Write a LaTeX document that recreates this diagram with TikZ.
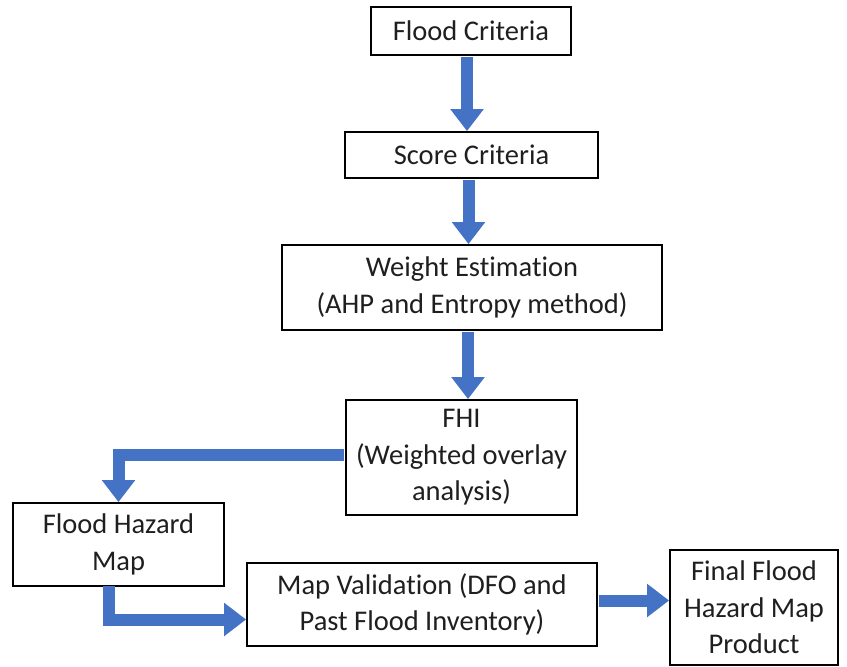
\documentclass[tikz,border=0pt]{standalone}
\usepackage{fontspec}
\setmainfont{Carlito}[Ligatures=NoCommon]
\usetikzlibrary{arrows.meta,calc}
\definecolor{arrblue}{HTML}{4472C4}
\begin{document}
\begin{tikzpicture}[x=1pt,y=-1pt,
  box/.style={draw=black,line width=1.8pt,fill=white,align=center,inner sep=0pt,font=\fontsize{28.5}{36.5}\selectfont,text=black!88},
  arr/.style={draw=arrblue,line width=12pt,line join=miter,-{Triangle[width=32pt,length=22pt]}}]
\useasboundingbox (0,0) rectangle (847,667);
\node[box,minimum width=200pt,minimum height=48pt] (fc) at (471,31) {Flood Criteria};
\node[box,minimum width=253pt,minimum height=46pt] (sc) at (471.5,155) {Score Criteria};
\node[box,minimum width=380pt,minimum height=85pt] (we) at (472,287.5) {Weight Estimation\\(AHP and Entropy method)};
\node[box,minimum width=231pt,minimum height=115pt] (fhi) at (461.5,457.5) {FHI\\(Weighted overlay\\analysis)};
\node[box,minimum width=211pt,minimum height=83pt] (fhm) at (118.5,544.5) {Flood Hazard\\Map};
\node[box,minimum width=350pt,minimum height=83pt] (mv) at (422,604.5) {Map Validation (DFO and\\Past Flood Inventory)};
\node[box,minimum width=168pt,minimum height=115pt] (fin) at (754,607.5) {Final Flood\\Hazard Map\\Product};
\coordinate (a1) at ($(fc.south)+(-4,1)$);
\draw[arr] (a1) -- (a1 |- sc.north);
\coordinate (a2) at ($(sc.south)+(-3,1)$);
\draw[arr] (a2) -- (a2 |- we.north);
\coordinate (a3) at ($(we.south)+(-4,1)$);
\draw[arr] (a3) -- (a3 |- fhi.north);
\coordinate (a4) at ($(fhi.west)+(-1,-3)$);
\draw[arr] (a4) -| (fhm.north);
\coordinate (a5) at ($(fhm.south)+(-10,-1)$);
\coordinate (a5e) at ($(mv.west)+(0,15)$);
\draw[arr] (a5) |- (a5e);
\coordinate (a6) at ($(mv.east)+(1,-4)$);
\draw[arr] (a6) -- (a6 -| fin.west);
\end{tikzpicture}
\end{document}
